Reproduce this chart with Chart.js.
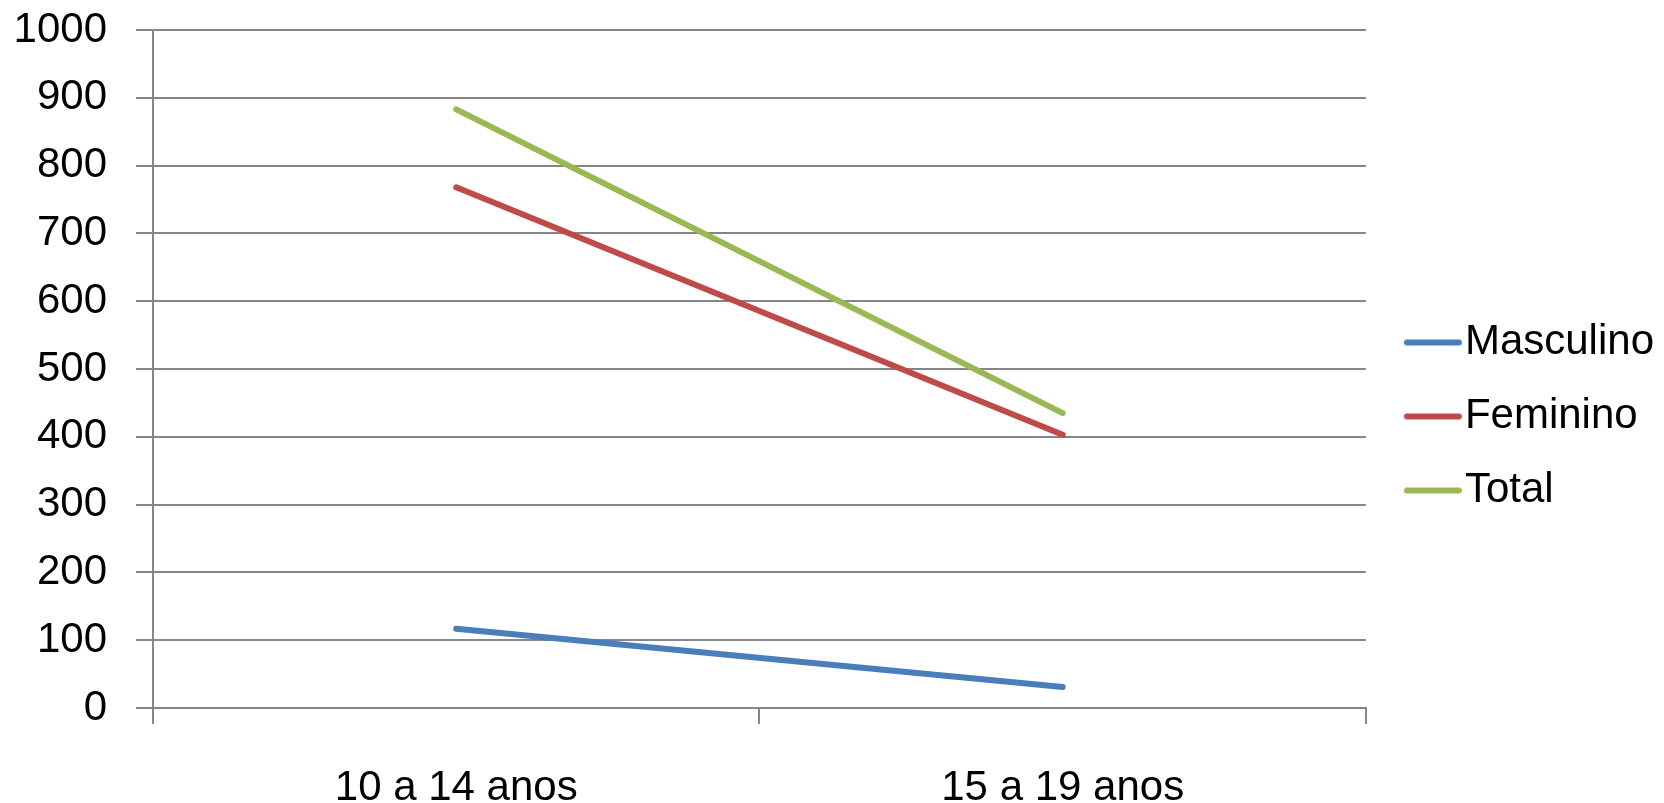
<!DOCTYPE html>
<html>
<head>
<meta charset="utf-8">
<script src="https://cdn.jsdelivr.net/npm/chart.js@4"></script>
<style>
  body { margin: 0; background: #fff; }
  #box { width: 1664px; height: 803px; }
</style>
</head>
<body>
<div id="box"><canvas id="grafico"></canvas></div>
<script>
// Dados do gráfico
const faixas = ['10 a 14 anos', '15 a 19 anos'];
const masculino = [117, 31];
const feminino = [768, 403];
const total = [883, 435];

const cores = ['#4A7EBB', '#BE4B48', '#98B954'];
const fonte = { family: 'Liberation Sans', size: 42 };

// traço da legenda deslocado para perto do texto
function tracoLegenda(cor) {
    const c = document.createElement('canvas');
    c.width = 86;
    c.height = 8;
    const ctx = c.getContext('2d');
    ctx.strokeStyle = cor;
    ctx.lineWidth = 6;
    ctx.lineCap = 'round';
    ctx.beginPath();
    ctx.moveTo(29, 4);
    ctx.lineTo(81, 4);
    ctx.stroke();
    return c;
}
const tracos = cores.map(tracoLegenda);

new Chart(document.getElementById('grafico'), {
    type: 'line',
    data: {
        labels: faixas,
        datasets: [
            { label: 'Masculino', data: masculino, borderColor: cores[0], backgroundColor: cores[0], borderWidth: 6 },
            { label: 'Feminino', data: feminino, borderColor: cores[1], backgroundColor: cores[1], borderWidth: 6 },
            { label: 'Total', data: total, borderColor: cores[2], backgroundColor: cores[2], borderWidth: 6 }
        ]
    },
    options: {
        responsive: true,
        maintainAspectRatio: false,
        animation: false,
        elements: { point: { radius: 0 }, line: { tension: 0, borderCapStyle: 'round' } },
        layout: { padding: { top: 30, right: 0, left: 0, bottom: 0 } },
        plugins: {
            tooltip: { enabled: false },
            legend: {
                position: 'right',
                labels: {
                    usePointStyle: true,
                    pointStyleWidth: 46,
                    color: '#000',
                    font: fonte,
                    padding: 32,
                    generateLabels: chart => {
                        const itens = Chart.defaults.plugins.legend.labels.generateLabels(chart);
                        itens.forEach((it, i) => { it.pointStyle = tracos[i]; });
                        return itens;
                    }
                }
            }
        },
        scales: {
            x: {
                offset: true,
                grid: { offset: true, drawOnChartArea: false, color: '#868686', lineWidth: 2, tickLength: 16 },
                border: { color: '#868686', width: 2 },
                ticks: { color: '#000', font: fonte, padding: 39 },
                afterFit: s => { s.height = 95; }
            },
            y: {
                min: 0,
                max: 1000,
                grid: { color: '#868686', lineWidth: 2, tickLength: 17 },
                border: { color: '#868686', width: 2 },
                ticks: { stepSize: 100, color: '#000', font: fonte, padding: 29, callback: v => String(v) },
                afterFit: s => { s.width = 153; s.paddingTop = 0; s.paddingBottom = 0; }
            }
        }
    }
});
</script>
</body>
</html>
